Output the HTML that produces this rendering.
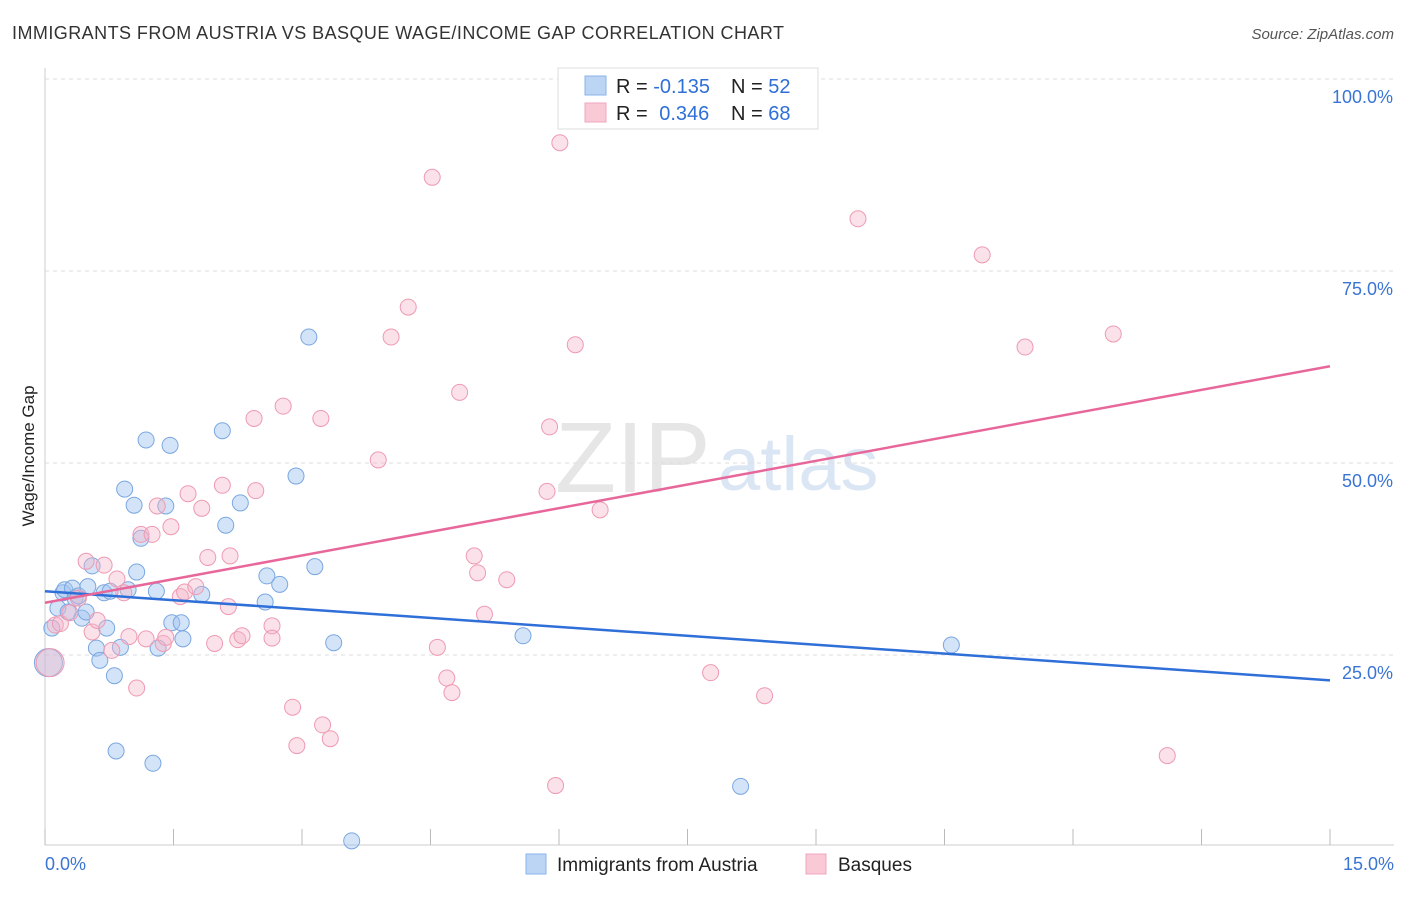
<!DOCTYPE html>
<html><head><meta charset="utf-8"><style>
body{margin:0;background:#fff;font-family:"Liberation Sans",sans-serif;}
svg text{font-family:"Liberation Sans",sans-serif;}
</style></head><body>
<svg id="chart" width="1406" height="892" xmlns="http://www.w3.org/2000/svg">
<text x="12" y="39" font-size="18" fill="#333" textLength="772">IMMIGRANTS FROM AUSTRIA VS BASQUE WAGE/INCOME GAP CORRELATION CHART</text>
<text x="1394" y="39" font-size="15" fill="#555" text-anchor="end" font-style="italic">Source: ZipAtlas.com</text>
<text transform="translate(34,456) rotate(-90)" font-size="17" fill="#222" text-anchor="middle">Wage/Income Gap</text>
<text x="555" y="492" font-size="100" fill="#e6e6e6" font-family="Liberation Serif">ZIP</text>
<text x="718" y="490" font-size="76" fill="#dbe6f5">atlas</text>
<g id="grid"></g><g id="ticks"></g><g id="pts"></g><g id="lines"></g>
<g>
<rect x="558" y="68" width="260" height="61" fill="#fff" stroke="#ddd"/>
<rect x="585" y="76" width="21" height="19" fill="#bcd5f5" stroke="#8ab4ea"/>
<rect x="585" y="103" width="21" height="19" fill="#f9c9d6" stroke="#f0a6bd"/>
<text x="616" y="93" font-size="20" fill="#222">R = <tspan fill="#2f6fd8">-0.135</tspan></text>
<text x="731" y="93" font-size="20" fill="#222">N = <tspan fill="#2f6fd8">52</tspan></text>
<text x="616" y="120" font-size="20" fill="#222">R = <tspan fill="#2f6fd8" dx="6">0.346</tspan></text>
<text x="731" y="120" font-size="20" fill="#222">N = <tspan fill="#2f6fd8">68</tspan></text>
</g>
<g>
<rect x="526" y="854" width="20" height="20" fill="#bcd5f5" stroke="#8ab4ea"/>
<text x="557" y="871" font-size="19" fill="#222">Immigrants from Austria</text>
<rect x="806" y="854" width="20" height="20" fill="#f9c9d6" stroke="#f0a6bd"/>
<text x="838" y="871" font-size="19" fill="#222">Basques</text>
</g>
</svg>
<script>
const xTicks=[0,1.5,3,4.5,6,7.5,9,10.5,12,13.5,15];
const yTicks=[25,50,75,100];
const austriaX=[0.08,0.15,0.21,0.23,0.27,0.32,0.35,0.39,0.43,0.48,0.5,0.55,0.6,0.64,0.69,0.72,0.76,0.81,0.83,0.88,0.93,0.97,1.04,1.07,1.12,1.18,1.26,1.3,1.32,1.41,1.46,1.48,1.59,1.61,1.83,2.07,2.11,2.28,2.57,2.59,2.74,2.93,3.08,3.15,3.37,3.58,5.58,8.12,10.58,0.04];
const austriaY=[28.5,31.1,33.1,33.5,30.6,33.7,32.4,32.7,29.8,30.6,33.9,36.6,25.9,24.3,33.1,28.5,33.3,22.3,12.5,26.0,46.6,33.5,44.5,35.8,40.2,53.0,10.9,33.3,25.9,44.4,52.3,29.2,29.2,27.1,32.9,54.2,41.9,44.8,31.9,35.3,34.2,48.3,66.4,36.5,26.6,0.8,27.5,7.9,26.3,24.0];
const basqueX=[0.06,0.12,0.18,0.29,0.39,0.48,0.55,0.61,0.69,0.78,0.84,0.92,0.98,1.07,1.12,1.18,1.25,1.31,1.38,1.41,1.47,1.58,1.63,1.67,1.76,1.83,1.9,1.98,2.07,2.14,2.16,2.25,2.3,2.44,2.46,2.65,2.65,2.78,2.89,2.94,3.22,3.24,3.33,3.89,4.04,4.24,4.52,4.58,4.69,4.75,4.84,5.01,5.05,5.13,5.39,5.86,5.89,5.96,6.01,6.19,6.48,7.77,8.4,9.49,10.94,11.44,12.47,13.1];
const basqueY=[24,28.9,29.1,30.5,32.4,37.2,28,29.5,36.7,25.6,34.9,33.1,27.4,20.7,40.7,27.1,40.7,44.4,26.5,27.3,41.7,32.6,33.2,46,33.9,44.1,37.7,26.5,47.1,31.3,37.9,27,27.5,55.8,46.4,28.8,27.2,57.4,18.2,13.2,55.8,15.9,14.1,50.4,66.4,70.3,87.2,26,22,20.1,59.2,37.9,35.7,30.3,34.8,46.3,54.7,8,91.7,65.4,43.9,22.7,19.7,81.8,77.1,65.1,66.8,11.9];
const trendA=[[0,33.3],[15,21.7]];
const trendB=[[0,31.8],[15,62.6]];
const X=v=>45+v/15*1285, Y=v=>847-v/100*768;
const NS='http://www.w3.org/2000/svg';
function mk(t,p,a){const e=document.createElementNS(NS,t);for(const k in a)e.setAttribute(k,a[k]);document.getElementById(p).appendChild(e);return e;}
yTicks.forEach(t=>{
const l=mk('line','grid',{x1:45,x2:1394,y1:Y(t),y2:Y(t),stroke:'#ddd','stroke-dasharray':'4,4'});


const tx=mk('text','grid',{x:1393,y:Y(t)+24,'font-size':18,fill:'#3a74d4','text-anchor':'end'});tx.textContent=t.toFixed(1)+'%';


});
mk('line','grid',{x1:45,x2:45,y1:68,y2:845,stroke:'#ccc'});
mk('line','grid',{x1:45,x2:1394,y1:845,y2:845,stroke:'#ccc'});
xTicks.forEach(t=>{
const l=mk('line','ticks',{x1:X(t),x2:X(t),y1:829,y2:845,stroke:'#bbb'});


});
[[0,'start',45],[15,'end',1394]].forEach(([v,a,x])=>{const t=mk('text','ticks',{x:x,y:870,'font-size':18,fill:'#3a74d4','text-anchor':a});t.textContent=v.toFixed(1)+'%';

});
austriaX.forEach((x,i)=>{const c=mk('circle','pts',{cx:X(x),cy:Y(austriaY[i]),r:i==austriaX.length-1?14:8,fill:'rgba(160,196,240,0.45)',stroke:'#7aa7e0'});

});
basqueX.forEach((x,i)=>{const c=mk('circle','pts',{cx:X(x),cy:Y(basqueY[i]),r:i==0?14:8,fill:'rgba(245,180,200,0.4)',stroke:'#ee9ab2'});

});
const la=mk('line','lines',{x1:X(trendA[0][0]),y1:Y(trendA[0][1]),x2:X(trendA[1][0]),y2:Y(trendA[1][1]),stroke:'#2f6fd8','stroke-width':2.5});


const lb=mk('line','lines',{x1:X(trendB[0][0]),y1:Y(trendB[0][1]),x2:X(trendB[1][0]),y2:Y(trendB[1][1]),stroke:'#e8679a','stroke-width':2.5});


</script>
</body></html>
